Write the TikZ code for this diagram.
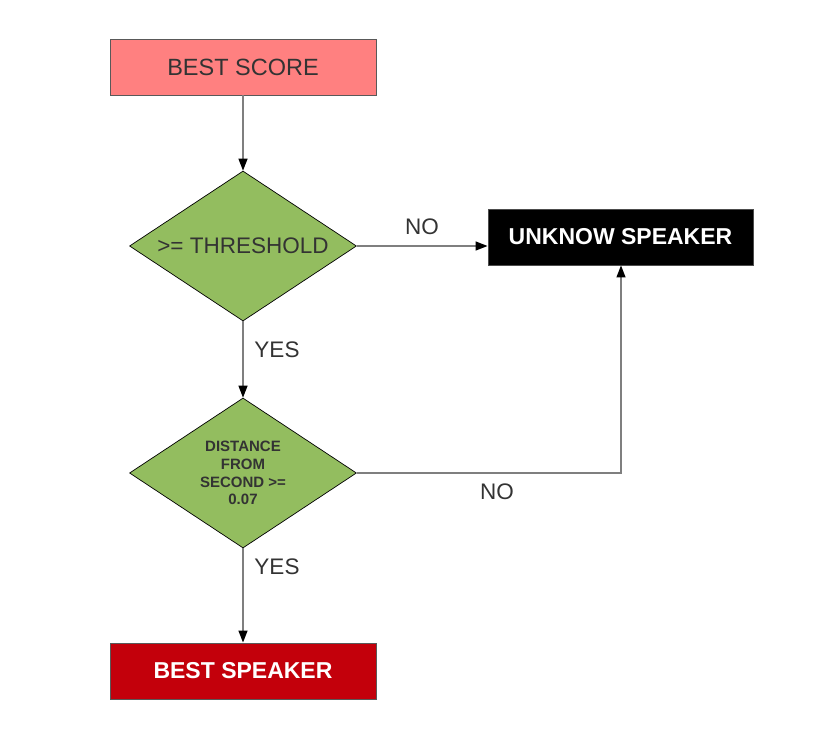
\documentclass[tikz,border=0pt]{standalone}
\usepackage{fontspec}
\setmainfont{Liberation Sans}
\usetikzlibrary{shapes.geometric,arrows.meta}
\definecolor{pinkfill}{HTML}{FF8080}
\definecolor{greenfill}{HTML}{93BD5F}
\definecolor{redfill}{HTML}{C3000B}
\definecolor{txt}{HTML}{333333}
\definecolor{linegray}{HTML}{7F7F7F}
\tikzset{
  box/.style={rectangle, draw=black!65, line width=0.9pt, minimum width=266pt, minimum height=56pt, inner sep=0pt, font=\fontsize{23.5}{27}\selectfont},
  decision/.style={diamond, draw=black, line width=0.7pt, fill=greenfill, minimum width=227pt, minimum height=150pt, shape aspect=1.5, inner sep=0pt, text=txt},
  conn/.style={draw=linegray, line width=1.3pt, -{Triangle[length=12pt,width=9pt,color=black]}},
  lbl/.style={text=txt, font=\fontsize{22.5}{26}\selectfont, inner sep=0pt}
}
\begin{document}
\begin{tikzpicture}[x=1pt,y=-1pt]
\useasboundingbox (0,0) rectangle (836,744);
\node[box, fill=pinkfill, text=txt] (score) at (243,67) {BEST SCORE};
\node[decision, font=\fontsize{22.5}{26}\selectfont] (thr) at (243,246) {>= THRESHOLD};
\node[decision, font=\bfseries\fontsize{15}{17.7}\selectfont, align=center] (dist) at (243,473) {DISTANCE\\FROM\\SECOND >=\\0.07};
\node[box, fill=redfill, text=white, font=\bfseries\fontsize{23}{27}\selectfont] (best) at (243,671) {BEST SPEAKER};
\node[box, fill=black, draw=black!70, text=white, minimum width=265pt, font=\bfseries\fontsize{23}{27}\selectfont] (unk) at (620.5,237) {UNKNOW SPEAKER};
\coordinate (corner) at (621,473);
\draw[conn] (score) -- (thr);
\draw[conn] (thr.east) -- (thr.east -| unk.west);
\draw[conn] (thr.south) -- (dist.north);
\draw[conn] (dist.south) -- (best.north);
\draw[conn] (dist.east) -- (corner) -- (unk.south -| corner);
\node[lbl] (no1) at (422,227) {NO};
\node[lbl] (yes1) at (277,350) {YES};
\node[lbl] (no2) at (497,492) {NO};
\node[lbl] (yes2) at (277,567) {YES};
\end{tikzpicture}
\end{document}
